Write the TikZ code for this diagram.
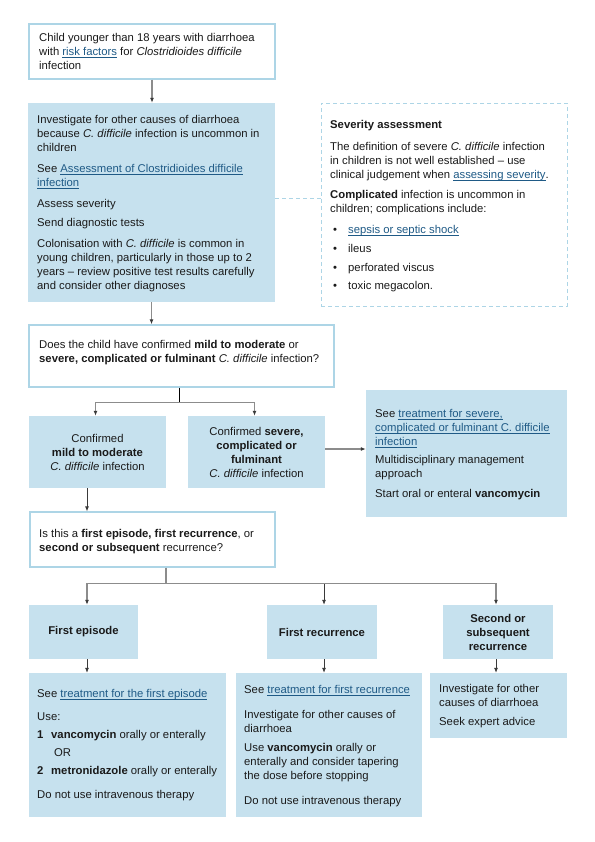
\documentclass[tikz,border=0pt]{standalone}
\usepackage{fontspec}
\setmainfont{Liberation Sans}
\usetikzlibrary{fit,arrows.meta}
\definecolor{boxfill}{HTML}{C6E1EE}
\definecolor{boxline}{HTML}{ADD5E6}
\definecolor{linkc}{HTML}{1F5A86}
\definecolor{connc}{HTML}{8C8C8C}
\definecolor{tipc}{HTML}{3A3A3A}
\definecolor{txt}{HTML}{1A1A1A}
\newsavebox{\lnkbox}
\newcommand{\lnk}[1]{\textcolor{linkc}{\sbox{\lnkbox}{#1}\rlap{\rule[-2.2bp]{\wd\lnkbox}{0.6bp}}\usebox{\lnkbox}}}
\newcommand{\fsz}{\fontsize{11.3bp}{14bp}\selectfont}
\newcommand{\fl}{\rule{0pt}{10bp}}
\newcommand{\bul}{\hspace*{3bp}\makebox[15bp][l]{\textbullet}}
\tikzset{
  bluebox/.style={fill=boxfill, draw=none, inner sep=0pt},
  whitebox/.style={fill=white, draw=boxline, line width=1.3bp, inner sep=0pt},
  dashbox/.style={draw=boxline, dash pattern=on 4bp off 3bp, line width=1bp, inner sep=0pt},
  txtnode/.style={inner sep=0pt, align=left, anchor=north west, font=\fsz, text=txt},
  ctext/.style={inner sep=0pt, align=center, font=\fsz, text=txt},
  conn/.style={draw=connc, line width=1.1bp, -{Latex[length=5bp,width=4bp,color=tipc]}},
  darkconn/.style={conn, draw=tipc, line width=0.8bp},
  linkline/.style={draw=connc, line width=1.1bp},
  dline/.style={draw=boxline, dash pattern=on 4bp off 3bp, line width=1bp},
}
\begin{document}
\begin{tikzpicture}[x=1bp,y=-1bp]
\fill[white] (0,0) rectangle (595,842);
\useasboundingbox (0,0) rectangle (595,842);

% boxes
\node[whitebox, fit={(29,24) (275,79)}] (b1) {};
\node[bluebox, fit={(28,103) (275,302)}] (b2) {};
\node[dashbox, fit={(321,103) (567,306)}] (sev) {};
\node[whitebox, fit={(29,325) (334,387)}] (b3) {};
\node[bluebox, fit={(29,416) (166,488)}] (b4) {};
\node[bluebox, fit={(188,416) (325,488)}] (b5) {};
\node[bluebox, fit={(366,390) (567,517)}] (b6) {};
\node[whitebox, fit={(30,512) (275,567)}] (b7) {};
\node[bluebox, fit={(29,605) (138,659)}] (b8) {};
\node[bluebox, fit={(267,605) (377,659)}] (b9) {};
\node[bluebox, fit={(443,605) (553,659)}] (b10) {};
\node[bluebox, fit={(29,673) (226,817)}] (b11) {};
\node[bluebox, fit={(236,673) (422,817)}] (b12) {};
\node[bluebox, fit={(430,673) (567,738)}] (b13) {};

% texts (y = first baseline - 10)
\node[txtnode] (t1) at (39,31) {\fl Child younger than 18 years with diarrhoea\\
with \lnk{risk factors} for \textit{Clostridioides difficile}\\
infection};

\node[txtnode] (t2) at (37,113) {\fl Investigate for other causes of diarrhoea\\
because \textit{C. difficile} infection is uncommon in\\
children\\[7bp]
See \lnk{Assessment of Clostridioides difficile}\\
\lnk{infection}\\[7bp]
Assess severity\\[5bp]
Send diagnostic tests\\[7bp]
Colonisation with \textit{C. difficile} is common in\\
young children, particularly in those up to 2\\
years – review positive test results carefully\\
and consider other diagnoses};

\node[txtnode] (ts) at (330,118) {\fl\textbf{Severity assessment}\\[8bp]
The definition of severe \textit{C. difficile} infection\\
in children is not well established – use\\
clinical judgement when \lnk{assessing severity}.\\[6bp]
\textbf{Complicated} infection is uncommon in\\
children; complications include:\\[7bp]
\bul\lnk{sepsis or septic shock}\\[5bp]
\bul ileus\\[5bp]
\bul perforated viscus\\[4bp]
\bul toxic megacolon.};

\node[txtnode] (t3) at (39,338) {\fl Does the child have confirmed \textbf{mild to moderate} or\\
\textbf{severe, complicated or fulminant} \textit{C. difficile} infection?};

\node[ctext] (t4) at (b4.center) {Confirmed\\\textbf{mild to moderate}\\\textit{C. difficile} infection};
\node[ctext] (t5) at (b5.center) {Confirmed \textbf{severe,}\\\textbf{complicated or}\\\textbf{fulminant}\\\textit{C. difficile} infection};

\node[txtnode] (t6) at (375,407) {\fl See \lnk{treatment for severe,}\\
\lnk{complicated or fulminant C. difficile}\\
\lnk{infection}\\[4bp]
Multidisciplinary management\\
approach\\[6bp]
Start oral or enteral \textbf{vancomycin}};

\node[txtnode] (t7) at (39,527) {\fl Is this a \textbf{first episode, first recurrence}, or\\
\textbf{second or subsequent} recurrence?};

\node[ctext] (t8) at (b8.center) {\textbf{First episode}};
\node[ctext] (t9) at (b9.center) {\textbf{First recurrence}};
\node[ctext] (t10) at (b10.center) {\textbf{Second or}\\\textbf{subsequent}\\\textbf{recurrence}};

\node[txtnode] (t11) at (37,687) {\fl See \lnk{treatment for the first episode}\\[9bp]
Use:\\[4bp]
\makebox[14bp][l]{\textbf{1}}\textbf{vancomycin} orally or enterally\\[4bp]
\hspace*{17bp}OR\\[4bp]
\makebox[14bp][l]{\textbf{2}}\textbf{metronidazole} orally or enterally\\[10bp]
Do not use intravenous therapy};

\node[txtnode] (t12) at (244,683) {\fl See \lnk{treatment for first recurrence}\\[11bp]
Investigate for other causes of\\
diarrhoea\\[5bp]
Use \textbf{vancomycin} orally or\\
enterally and consider tapering\\
the dose before stopping\\[11bp]
Do not use intravenous therapy};

\node[txtnode] (t13) at (439,682) {\fl Investigate for other\\
causes of diarrhoea\\[5bp]
Seek expert advice};

% connectors
\draw[conn] (b1.south) -- (b1.south |- b2.north);
\path ([yshift=4.5bp]b2.east) coordinate (d1);
\draw[dline] (d1) -- (d1 -| sev.west);
\draw[conn] (b2.south) -- (b2.south |- b3.north);

\draw[linkline, draw=black, line width=0.8bp] ([xshift=-2bp]b3.south) -- ++(0,15) coordinate (j1);
\draw[conn] (j1) -| ([xshift=-2bp]b4.north);
\draw[conn] (j1) -| ([xshift=-2bp]b5.north);

\path ([yshift=3bp]b5.east) coordinate (e5);
\draw[conn] (e5) -- (e5 -| b6.west);

\path ([xshift=-10.5bp]b4.south) coordinate (s4);
\draw[darkconn] (s4) -- (s4 |- b7.north);

\path ([xshift=13.5bp]b7.south) coordinate (s7);
\draw[linkline] (s7) -- ++(0,16) coordinate (j2);
\draw[conn] (j2) -| ([xshift=3.5bp]b8.north);
\draw[darkconn] (j2) -| ([xshift=2bp]b9.north);
\draw[conn] (j2) -| ([xshift=-2bp]b10.north);

\path ([xshift=3.5bp]b8.south) coordinate (s8);
\draw[darkconn] (s8) -- (s8 |- b11.north);
\path ([xshift=2bp]b9.south) coordinate (s9);
\draw[darkconn] (s9) -- (s9 |- b12.north);
\path ([xshift=-2bp]b10.south) coordinate (s10);
\draw[darkconn] (s10) -- (s10 |- b13.north);
\end{tikzpicture}
\end{document}
